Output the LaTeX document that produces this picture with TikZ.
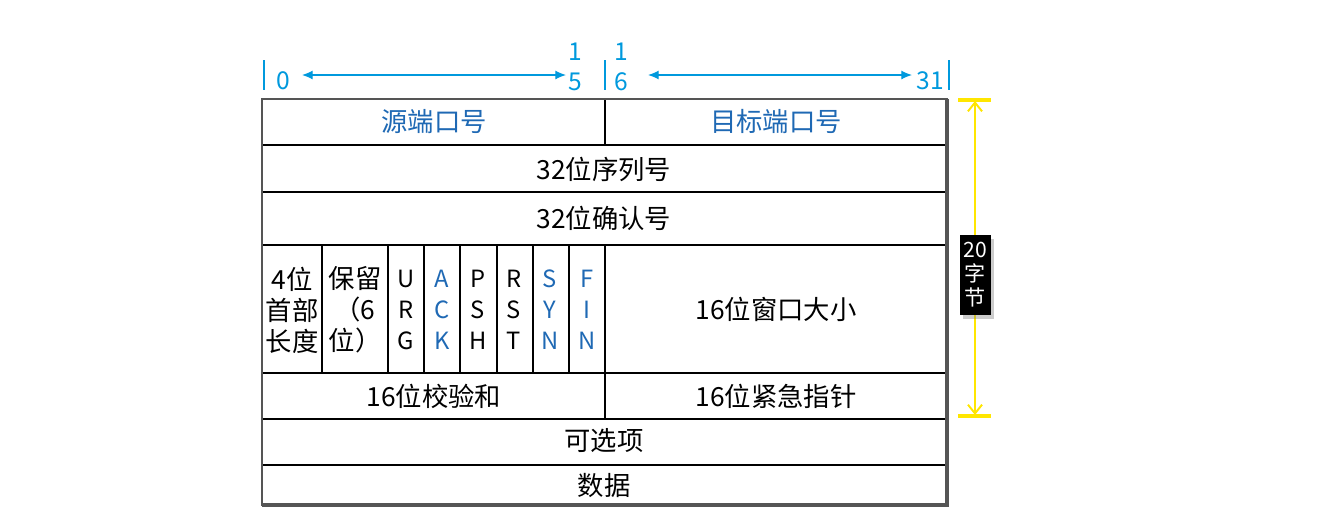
\documentclass[tikz,border=0pt]{standalone}
\usepackage{fontspec}
\setmainfont{Noto Sans CJK SC}
\usetikzlibrary{arrows.meta, shadows}
\definecolor{fieldblue}{RGB}{31, 105, 180}
\definecolor{axisblue}{RGB}{0, 153, 221}
\definecolor{framegray}{RGB}{85, 85, 85}
\definecolor{sizeyellow}{RGB}{255, 230, 0}

\begin{document}
\begin{tikzpicture}[x=0.02cm, y=-0.02cm,
    field/.style={inner sep=0pt, font=\fontsize{15}{17.6}\selectfont},
    flag/.style={inner sep=0pt, align=center, font=\fontsize{13.5}{17.6}\selectfont},
    bitnum/.style={inner sep=0pt, align=center, text=axisblue, font=\fontsize{14}{17}\selectfont}]
    \useasboundingbox (0,0) rectangle (1320,518);

    \draw[line width=0.6pt] (262,145) -- (946,145);
    \draw[line width=0.6pt] (262,192) -- (946,192);
    \draw[line width=0.6pt] (262,245) -- (946,245);
    \draw[line width=0.6pt] (262,373) -- (946,373);
    \draw[line width=0.6pt] (262,419) -- (946,419);
    \draw[line width=0.6pt] (262,465) -- (946,465);
    \draw[line width=0.6pt] (605,99) -- (605,145);
    \draw[line width=0.6pt] (605,245) -- (605,419);
    \foreach \x in {322,388,424,460,497,533,569}
        \draw[line width=0.6pt] (\x,245) -- (\x,373);
    \draw[framegray, line width=1.2pt] (262,99) rectangle (947,505);
    \draw[framegray, line width=2.4pt] (947,99) -- (947,505) -- (262,505);

    \node[field, text=fieldblue] (srcport) at (434,122) {源端口号};
    \node[field, text=fieldblue] (dstport) at (776,122) {目标端口号};
    \node[field] (seqnum) at (604,169) {32位序列号};
    \node[field] (acknum) at (604,218) {32位确认号};
    \node[field, align=center] (hdrlen) at (292,310) {4位\\首部\\长度};
    \node[field, align=center] (reserved) at (355,310) {保留\\（6\\位）};
    \foreach \x/\a/\b/\c/\col in {406/U/R/G/black, 442/A/C/K/fieldblue, 478/P/S/H/black,
        514/R/S/T/black, 550/S/Y/N/fieldblue, 587/F/I/N/fieldblue}
        \node[flag, text=\col] (flag\a) at (\x,310) {\a\\\b\\\c};
    \node[field] (window) at (776,309) {16位窗口大小};
    \node[field] (checksum) at (434,396) {16位校验和};
    \node[field] (urgent) at (776,396) {16位紧急指针};
    \node[field] (options) at (604,441) {可选项};
    \node[field] (payload) at (604,486) {数据};

    \draw[axisblue, line width=0.6pt] (264,60) -- (264,90);
    \draw[axisblue, line width=0.6pt] (605,60) -- (605,90);
    \draw[axisblue, line width=0.6pt] (949,60) -- (949,90);
    \node[bitnum] (bit0) at (283,81) {0};
    \node[bitnum] (bit15) at (575,67) {1\\5};
    \node[bitnum] (bit16) at (621,67) {1\\6};
    \node[bitnum] (bit31) at (930,81) {31};
    \coordinate (a0) at (302,75);
    \coordinate (a15) at (566,75);
    \coordinate (a16) at (648,75);
    \coordinate (a31) at (912,75);
    \draw[axisblue, line width=0.6pt, {Latex[length=6pt,width=5pt]}-{Latex[length=6pt,width=5pt]}] (a0) -- (a15);
    \draw[axisblue, line width=0.6pt, {Latex[length=6pt,width=5pt]}-{Latex[length=6pt,width=5pt]}] (a16) -- (a31);

    \coordinate (ytop) at (975,101);
    \coordinate (ybot) at (975,415);
    \draw[sizeyellow, line width=2pt] (958,100) -- (991,100);
    \draw[sizeyellow, line width=2pt] (958,416) -- (991,416);
    \draw[sizeyellow, line width=1.1pt, {Straight Barb[length=5pt,width=8pt]}-{Straight Barb[length=5pt,width=8pt]}] (ytop) -- (ybot);
    \node[fill=black, text=white, align=center, inner sep=0pt, minimum width=0.62cm, minimum height=1.6cm,
        drop shadow={shadow xshift=2pt, shadow yshift=-2pt, opacity=0.4},
        font=\fontsize{12}{13.6}\selectfont] (hdrsize) at (975,275) {20\\字\\节};
\end{tikzpicture}
\end{document}
